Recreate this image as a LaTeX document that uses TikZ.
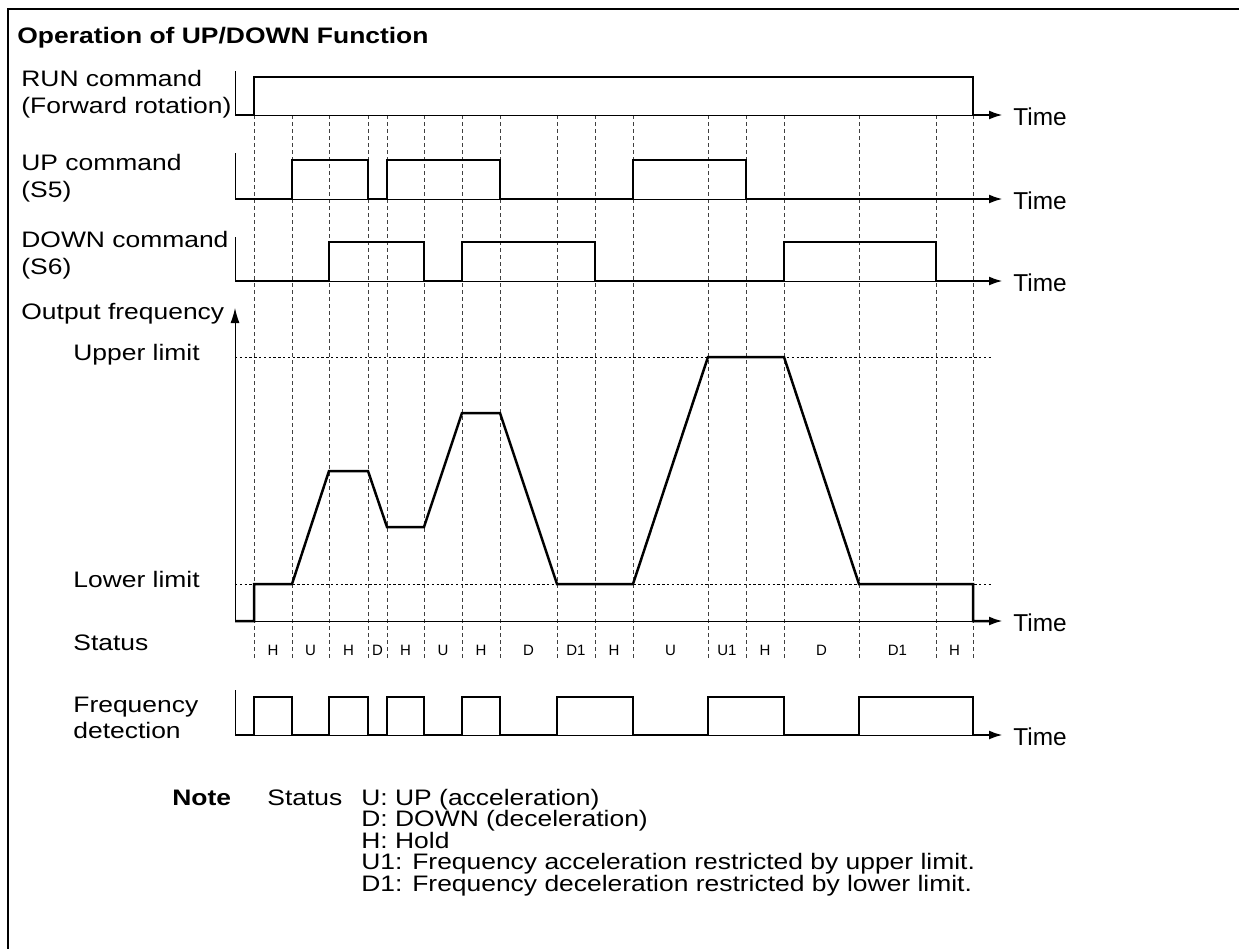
\documentclass[tikz,border=0pt]{standalone}
\usepackage{fontspec}
\setmainfont{Liberation Sans}[FakeStretch=1.18]
\newfontfamily\plainsans{Liberation Sans}
\usetikzlibrary{arrows.meta}

\begin{document}
\begin{tikzpicture}[
  x=0.5pt, y=-0.5pt,
  font=\fontsize{11.2pt}{13pt}\selectfont,
  lbl/.style={anchor=base west, inner sep=0pt},
  stat/.style={anchor=base, inner sep=0pt, font=\plainsans\fontsize{7.5pt}{9pt}\selectfont},
  tm/.style={anchor=west, inner sep=0pt, font=\plainsans\fontsize{12.2pt}{14pt}\selectfont},
  sig/.style={line width=1.25pt, -{Latex[length=7pt,width=4.5pt]}},
  axis/.style={line width=0.5pt},
  grid/.style={line width=0.35pt, black!75, dash pattern=on 2pt off 1.5pt},
  lim/.style={line width=0.5pt, dash pattern=on 1.2pt off 1.2pt},
]
\useasboundingbox (0,0) rectangle (1239,949);
\draw[line width=1.35pt] (8,949) -- (8,9) -- (1239,9);
\node[lbl, font=\fontsize{11.2pt}{13pt}\bfseries] (title) at (17,43) {Operation of UP/DOWN Function};

% dashed time marks
\foreach \t in {254,292,329,368,387,424,462,500,557,595,633,708,746,784,859,936,973}
  \draw[grid] (\t,115) -- (\t,660);

% RUN
\node[lbl] (run1) at (21,86) {RUN command};
\node[lbl] (run2) at (21,113) {(Forward rotation)};
\draw[axis] (235,71) -- (235,115) -- (973,115);
\draw[sig] (235,115) -| (254,77) -| (973,115) -- (1003,115);
\node[tm] (time1) at (1013,116.5) {Time};

% UP
\node[lbl] (up1) at (21,170) {UP command};
\node[lbl] (up2) at (21,197) {(S5)};
\draw[axis] (235,153) -- (235,199) -- (973,199);
\draw[sig] (235,199) -| (292,160) -| (368,199) -| (387,160) -| (500,199) -| (633,160) -| (746,199) -- (1003,199);
\node[tm] (time2) at (1013,200.5) {Time};

% DOWN
\node[lbl] (dn1) at (21,247) {DOWN command};
\node[lbl] (dn2) at (21,274) {(S6)};
\draw[axis] (235,237) -- (235,281) -- (973,281);
\draw[sig] (235,281) -| (329,242) -| (424,281) -| (462,242) -| (595,281) -| (784,242) -| (936,281) -- (1003,281);
\node[tm] (time3) at (1013,282.5) {Time};

% output frequency
\node[lbl] (freq) at (21,319) {Output frequency};
\draw[axis, -{Latex[length=7.5pt,width=4.5pt]}] (235,621) -- (235,308);
\draw[axis] (235,621) -- (973,621);
\node[lbl] (upper) at (73,360) {Upper limit};
\node[lbl] (lower) at (73,587) {Lower limit};
\draw[lim] (235,357) -- (992,357);
\draw[lim] (235,584) -- (992,584);
\draw[sig] (235,621) -| (254,584) -- (292,584) -- (329,471) -- (368,471) -- (387,527) -- (424,527)
  -- (462,413) -- (500,413) -- (557,584) -- (633,584) -- (708,357) -- (784,357) -- (859,584)
  -| (973,621) -- (1003,621);
\node[tm] (time4) at (1013,622.5) {Time};

% status
\node[lbl] (status) at (73,650) {Status};
\foreach \a/\b/\s in {254/292/H, 292/329/U, 329/368/H, 368/387/D, 387/424/H, 424/462/U,
    462/500/H, 500/557/D, 557/595/D1, 595/633/H, 633/708/U, 708/746/U1, 746/784/H,
    784/859/D, 859/936/D1, 936/973/H}
  \node[stat] (st\a) at ({(\a+\b)/2},655) {\s};

% frequency detection
\node[lbl] (det1) at (73,712) {Frequency};
\node[lbl] (det2) at (73,738) {detection};
\draw[axis] (235,690) -- (235,735) -- (973,735);
\draw[sig] (235,735) -| (254,697) -| (292,735) -| (329,697) -| (368,735) -| (387,697) -| (424,735)
  -| (462,697) -| (500,735) -| (557,697) -| (633,735) -| (708,697) -| (784,735) -| (859,697)
  -| (973,735) -- (1003,735);
\node[tm] (time5) at (1013,736.5) {Time};

% note
\node[lbl, font=\fontsize{11.2pt}{13pt}\bfseries] (note) at (172,805) {Note};
\node[lbl] (nstat) at (267,805) {Status};
\foreach \s [count=\i] in {U: UP (acceleration), D: DOWN (deceleration), H: Hold,
    U1: Frequency acceleration restricted by upper limit.,
    D1: Frequency deceleration restricted by lower limit.}
  \node[lbl] (n\i) at (361,{805+21.5*(\i-1)}) {\s};
\end{tikzpicture}
\end{document}
